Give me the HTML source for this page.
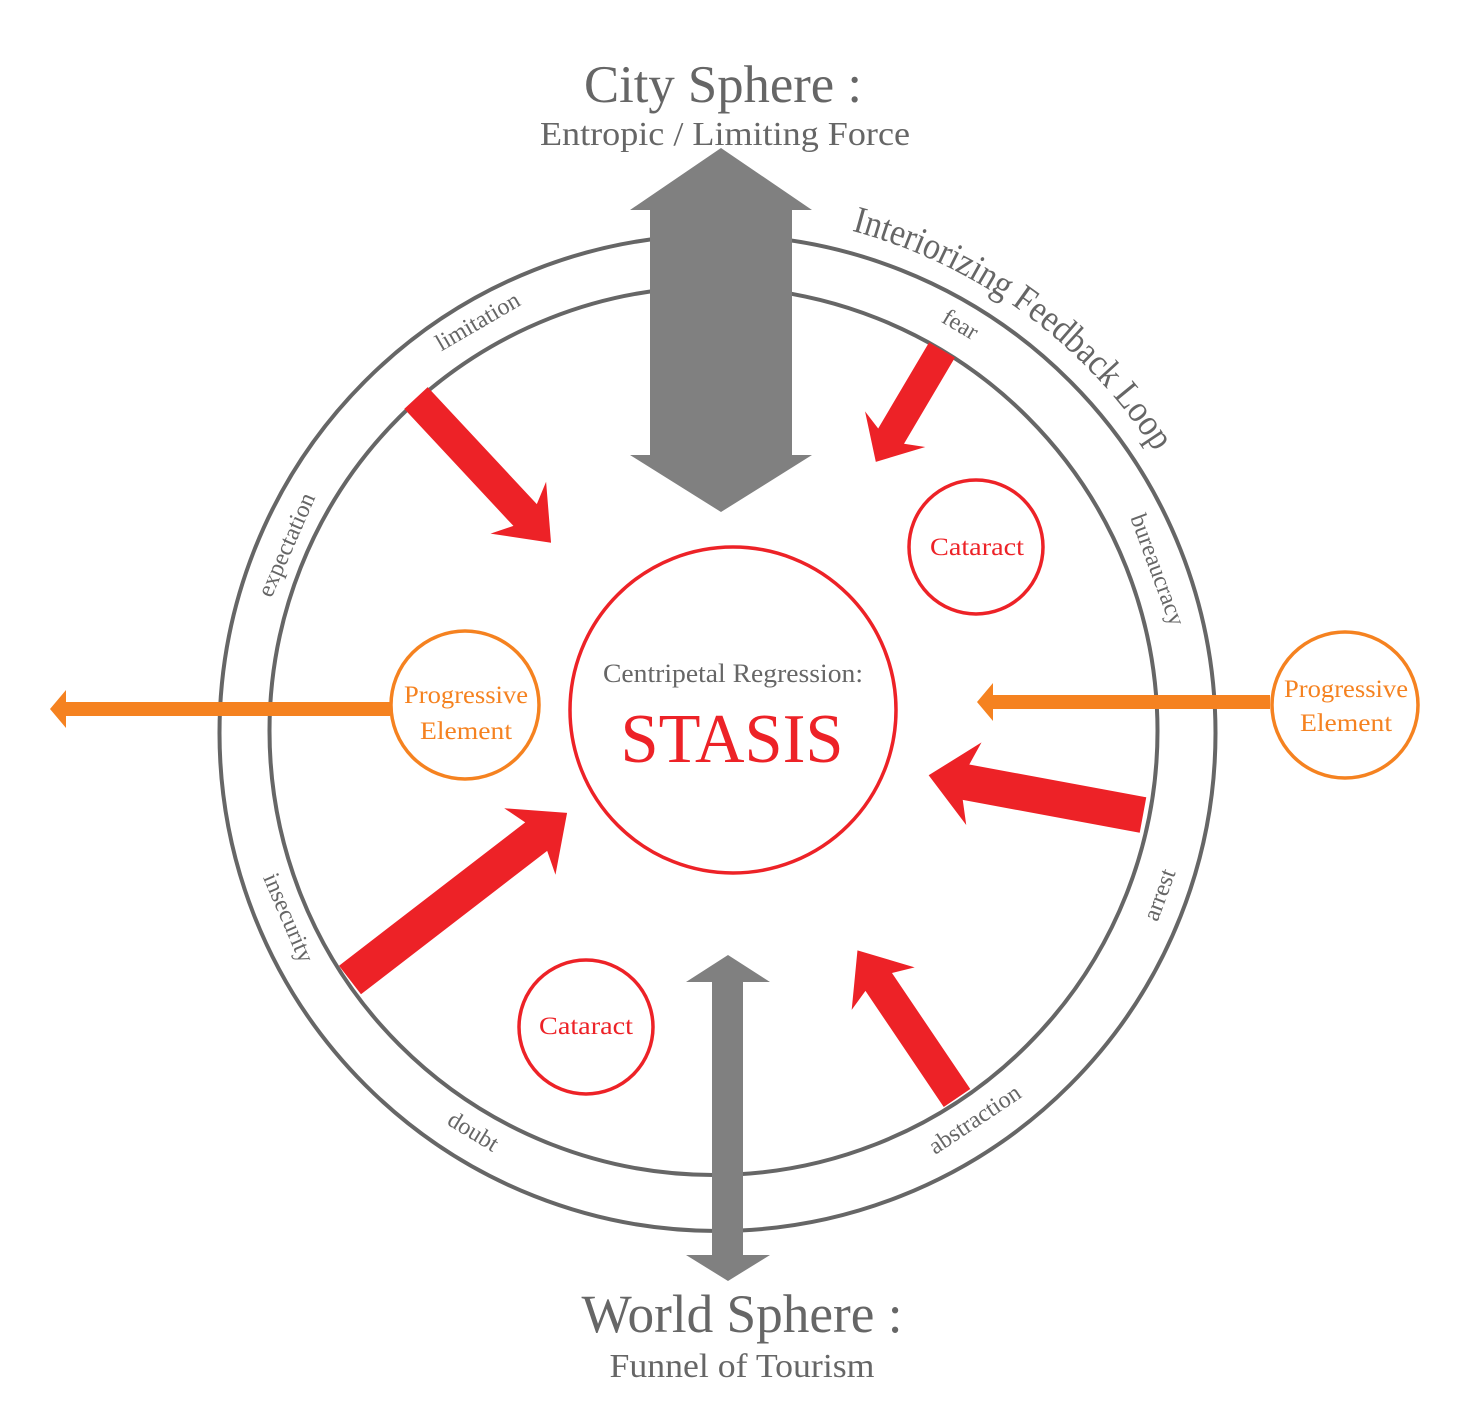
<!DOCTYPE html>
<html><head><meta charset="utf-8"><style>
html,body{margin:0;padding:0;background:#fff}
svg{display:block}
text{font-family:"Liberation Serif",serif}
</style></head><body>
<svg width="1479" height="1425" viewBox="0 0 1479 1425" xmlns="http://www.w3.org/2000/svg">
<defs>
<path id="arcI" d="M 851.6 230.7 A 520 520 0 0 1 1188.3 513.2"/>
</defs>
<circle cx="717.5" cy="733" r="498" fill="none" stroke="#666" stroke-width="4"/>
<circle cx="713.5" cy="731" r="444" fill="none" stroke="#666" stroke-width="4"/>

<polygon points="721,148 812,210 792,210 792,455 812,455 721,512 630,455 650,455 650,210 630,210" fill="#808080"/>
<polygon points="728,955 770,982 743,982 743,1255 770,1255 728,1281 686,1255 712,1255 712,982 686,982" fill="#808080"/>

<g fill="#ed2227">
<g transform="translate(416,398) rotate(47)"><polygon points="0,-16 160,-16 150,-38 198,0 150,38 160,16 0,16"/></g>
<g transform="translate(942,350) rotate(120.6)"><polygon points="0,-15 100,-15 92,-35 130,0 92,35 100,15 0,15"/></g>
<g transform="translate(1143,815) rotate(190.5)"><polygon points="0,-18 180,-18 172,-42 218,0 172,42 180,18 0,18"/></g>
<g transform="translate(957,1098) rotate(236)"><polygon points="0,-16 140,-16 132,-38 178,0 132,38 140,16 0,16"/></g>
<g transform="translate(350,980) rotate(-37.6)"><polygon points="0,-18 235,-18 227,-42 274,0 227,42 235,18 0,18"/></g>
</g>

<polygon points="390,702 66,702 66,690 50,709 66,728 66,716 390,716" fill="#f58220"/>
<polygon points="1270,695 993,695 993,683 977,702 993,721 993,709 1270,709" fill="#f58220"/>

<circle cx="733" cy="710" r="163" fill="#fff" stroke="#ed2227" stroke-width="3.5"/>
<circle cx="976" cy="547" r="67" fill="#fff" stroke="#ed2227" stroke-width="3.5"/>
<circle cx="586" cy="1027" r="67" fill="#fff" stroke="#ed2227" stroke-width="3.5"/>
<circle cx="465" cy="705" r="74" fill="#fff" stroke="#f58220" stroke-width="3.5"/>
<circle cx="1345" cy="705" r="73" fill="#fff" stroke="#f58220" stroke-width="3.5"/>

<text x="733" y="682" font-size="26" fill="#666" text-anchor="middle" textLength="260" lengthAdjust="spacingAndGlyphs">Centripetal Regression:</text>
<text x="732" y="762" font-size="70" fill="#ed2227" text-anchor="middle" textLength="223" lengthAdjust="spacingAndGlyphs">STASIS</text>
<text x="977" y="555" font-size="25" fill="#ed2227" text-anchor="middle" textLength="94" lengthAdjust="spacingAndGlyphs">Cataract</text>
<text x="586" y="1034" font-size="25" fill="#ed2227" text-anchor="middle" textLength="94" lengthAdjust="spacingAndGlyphs">Cataract</text>
<text x="466" y="703" font-size="25" fill="#f58220" text-anchor="middle" textLength="124" lengthAdjust="spacingAndGlyphs">Progressive</text>
<text x="466" y="739" font-size="25" fill="#f58220" text-anchor="middle" textLength="92" lengthAdjust="spacingAndGlyphs">Element</text>
<text x="1346" y="697" font-size="25" fill="#f58220" text-anchor="middle" textLength="124" lengthAdjust="spacingAndGlyphs">Progressive</text>
<text x="1346" y="731" font-size="25" fill="#f58220" text-anchor="middle" textLength="92" lengthAdjust="spacingAndGlyphs">Element</text>

<g font-size="24" fill="#666" text-anchor="middle">
<text transform="translate(478,322) rotate(-30.2)" y="7">limitation</text>
<text transform="translate(287,545) rotate(-66.4)" y="7">expectation</text>
<text transform="translate(288,918) rotate(66.7)" y="7">insecurity</text>
<text transform="translate(473,1132) rotate(31.4)" y="7">doubt</text>
<text transform="translate(975,1120) rotate(-33.7)" y="7">abstraction</text>
<text transform="translate(1160,895) rotate(-69.9)" y="7">arrest</text>
<text transform="translate(1157,570) rotate(69.7)" y="7">bureaucracy</text>
<text transform="translate(960,325) rotate(30.8)" y="7">fear</text>
</g>
<text font-size="38" fill="#666"><textPath href="#arcI" textLength="384" lengthAdjust="spacingAndGlyphs">Interiorizing Feedback Loop</textPath></text>

<text x="723" y="102" font-size="53" fill="#666" text-anchor="middle" textLength="278" lengthAdjust="spacingAndGlyphs">City Sphere :</text>
<text x="725" y="145" font-size="34" fill="#666" text-anchor="middle" textLength="370" lengthAdjust="spacingAndGlyphs">Entropic / Limiting Force</text>
<text x="742" y="1332" font-size="54" fill="#666" text-anchor="middle" textLength="321" lengthAdjust="spacingAndGlyphs">World Sphere :</text>
<text x="742" y="1377" font-size="34" fill="#666" text-anchor="middle" textLength="265" lengthAdjust="spacingAndGlyphs">Funnel of Tourism</text>
</svg>
</body></html>
